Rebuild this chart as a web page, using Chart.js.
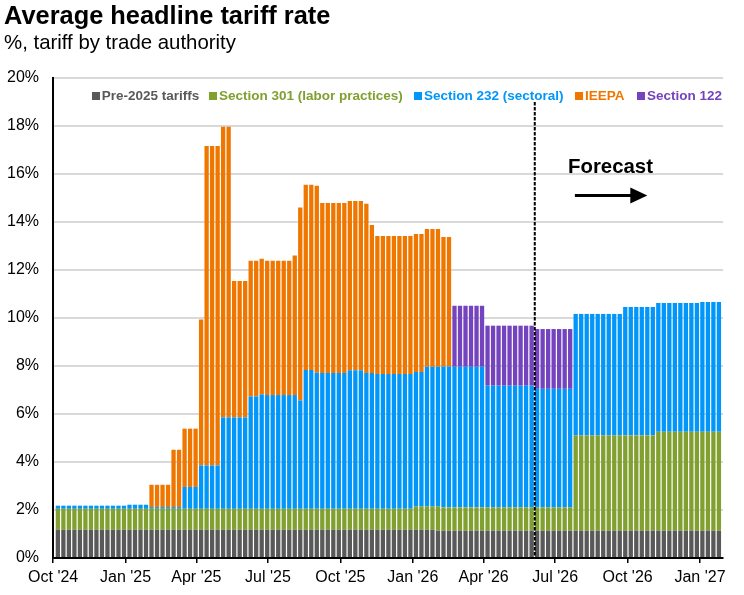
<!DOCTYPE html>
<html>
<head>
<meta charset="utf-8">
<script src="https://cdn.jsdelivr.net/npm/chart.js@4.4.1/dist/chart.umd.min.js"></script>
<style>
  html, body { margin: 0; padding: 0; background: #fff; overflow: hidden; }
  body { font-family: "Liberation Sans", Arial, sans-serif; }
  #wrap { position: relative; width: 744px; height: 595px; }
  #c { position: absolute; left: 0; top: 0; }
  .title { position: absolute; left: 4px; top: 3px; font-size: 25.4px; font-weight: bold; line-height: 1; color: #000; white-space: nowrap; }
  .sub { position: absolute; left: 4px; top: 32px; font-size: 20.4px; line-height: 1; color: #000; white-space: nowrap; }
  .lg { position: absolute; top: 89px; height: 14px; display: flex; align-items: center; white-space: nowrap; font-size: 13.5px; font-weight: bold; line-height: 1; }
  .lg i { display: inline-block; width: 8px; height: 8px; margin-right: 2px; }
  .fc { position: absolute; left: 568px; top: 156px; font-size: 20.4px; font-weight: bold; line-height: 1; color: #000; white-space: nowrap; }
</style>
</head>
<body>
<div id="wrap">
  <canvas id="c" width="744" height="595"></canvas>
  <div class="title">Average headline tariff rate</div>
  <div class="sub">%, tariff by trade authority</div>
  <div id="legend"></div>
  <div class="fc">Forecast</div>
</div>
<script>
// ---- categories: weekly observations ----
const weeks = [
  '2024-10-07','2024-10-14','2024-10-21','2024-10-28','2024-11-04','2024-11-11','2024-11-18','2024-11-25','2024-12-02','2024-12-09',
  '2024-12-16','2024-12-23','2024-12-30','2025-01-06','2025-01-13','2025-01-20','2025-01-27','2025-02-03','2025-02-10','2025-02-17',
  '2025-02-24','2025-03-03','2025-03-10','2025-03-17','2025-03-24','2025-03-31','2025-04-07','2025-04-14','2025-04-21','2025-04-28',
  '2025-05-05','2025-05-12','2025-05-19','2025-05-26','2025-06-02','2025-06-09','2025-06-16','2025-06-23','2025-06-30','2025-07-07',
  '2025-07-14','2025-07-21','2025-07-28','2025-08-04','2025-08-11','2025-08-18','2025-08-25','2025-09-01','2025-09-08','2025-09-15',
  '2025-09-22','2025-09-29','2025-10-06','2025-10-13','2025-10-20','2025-10-27','2025-11-03','2025-11-10','2025-11-17','2025-11-24',
  '2025-12-01','2025-12-08','2025-12-15','2025-12-22','2025-12-29','2026-01-05','2026-01-12','2026-01-19','2026-01-26','2026-02-02',
  '2026-02-09','2026-02-16','2026-02-23','2026-03-02','2026-03-09','2026-03-16','2026-03-23','2026-03-30','2026-04-06','2026-04-13',
  '2026-04-20','2026-04-27','2026-05-04','2026-05-11','2026-05-18','2026-05-25','2026-06-01','2026-06-08','2026-06-15','2026-06-22',
  '2026-06-29','2026-07-06','2026-07-13','2026-07-20','2026-07-27','2026-08-03','2026-08-10','2026-08-17','2026-08-24','2026-08-31',
  '2026-09-07','2026-09-14','2026-09-21','2026-09-28','2026-10-05','2026-10-12','2026-10-19','2026-10-26','2026-11-02','2026-11-09',
  '2026-11-16','2026-11-23','2026-11-30','2026-12-07','2026-12-14','2026-12-21','2026-12-28','2027-01-04','2027-01-11','2027-01-18',
  '2027-01-25'
];

// ---- series values (% points, stacked) ----
const pre2025 = [
  1.18,1.18,1.18,1.18,1.18,1.18,1.18,1.18,1.18,1.18,
  1.18,1.18,1.18,1.18,1.18,1.18,1.18,1.18,1.18,1.18,
  1.18,1.18,1.18,1.18,1.18,1.18,1.18,1.18,1.18,1.18,
  1.18,1.18,1.18,1.18,1.18,1.18,1.18,1.18,1.18,1.18,
  1.18,1.18,1.18,1.18,1.18,1.18,1.18,1.18,1.18,1.18,
  1.18,1.18,1.18,1.18,1.18,1.18,1.18,1.18,1.18,1.18,
  1.18,1.18,1.18,1.18,1.18,1.18,1.18,1.18,1.18,1.14,
  1.14,1.14,1.14,1.14,1.14,1.14,1.14,1.14,1.14,1.14,
  1.14,1.14,1.14,1.14,1.14,1.14,1.14,1.14,1.14,1.14,
  1.14,1.14,1.14,1.14,1.14,1.14,1.14,1.14,1.14,1.14,
  1.14,1.14,1.14,1.14,1.14,1.14,1.14,1.14,1.14,1.14,
  1.14,1.14,1.14,1.14,1.14,1.14,1.14,1.14,1.14,1.14,
  1.14
];
const sec301 = [
  0.87,0.87,0.87,0.87,0.87,0.87,0.87,0.87,0.87,0.87,
  0.87,0.87,0.87,0.87,0.87,0.87,0.87,0.87,0.87,0.87,
  0.87,0.87,0.87,0.87,0.87,0.87,0.87,0.87,0.87,0.87,
  0.87,0.87,0.87,0.87,0.87,0.87,0.87,0.87,0.87,0.87,
  0.87,0.87,0.87,0.87,0.87,0.87,0.87,0.87,0.87,0.87,
  0.87,0.87,0.87,0.87,0.87,0.87,0.87,0.87,0.87,0.87,
  0.87,0.87,0.87,0.87,0.87,0.97,0.97,0.97,0.97,1.01,
  0.97,0.97,0.97,0.97,0.97,0.97,0.97,0.97,0.97,0.97,
  0.97,0.97,0.97,0.97,0.97,0.97,0.97,0.97,0.97,0.97,
  0.97,0.97,0.97,0.97,3.97,3.97,3.97,3.97,3.97,3.97,
  3.97,3.97,3.97,3.97,3.97,3.97,3.97,3.97,3.97,4.12,
  4.12,4.12,4.12,4.12,4.12,4.12,4.12,4.12,4.12,4.12,
  4.12
];
const sec232 = [
  0.13,0.13,0.13,0.13,0.13,0.13,0.13,0.13,0.13,0.13,
  0.13,0.13,0.13,0.17,0.17,0.17,0.17,0.07,0.07,0.07,
  0.07,0.07,0.07,0.91,0.91,0.91,1.81,1.81,1.81,1.81,
  3.81,3.81,3.81,3.81,3.81,4.68,4.68,4.77,4.74,4.74,
  4.74,4.74,4.74,4.74,4.52,5.78,5.78,5.67,5.66,5.66,
  5.66,5.66,5.66,5.77,5.77,5.77,5.66,5.66,5.62,5.62,
  5.62,5.62,5.62,5.62,5.62,5.60,5.60,5.82,5.82,5.82,
  5.87,5.87,5.86,5.86,5.86,5.86,5.86,5.86,5.07,5.07,
  5.07,5.07,5.07,5.07,5.07,5.07,5.07,4.94,4.94,4.94,
  4.94,4.94,4.94,4.94,5.06,5.06,5.06,5.06,5.06,5.06,
  5.06,5.06,5.06,5.35,5.35,5.35,5.35,5.35,5.35,5.36,
  5.36,5.36,5.36,5.36,5.36,5.36,5.36,5.41,5.41,5.41,
  5.41
];
const ieepa = [
  0,0,0,0,0,0,0,0,0,0,
  0,0,0,0,0,0,0,0.93,0.93,0.93,
  0.93,2.39,2.39,2.43,2.43,2.43,6.08,13.31,13.31,13.31,
  12.11,12.11,5.68,5.68,5.68,5.66,5.66,5.65,5.60,5.60,
  5.60,5.60,5.60,5.81,8.03,7.72,7.72,7.79,7.08,7.08,
  7.08,7.08,7.08,7.05,7.05,7.05,7.05,6.16,5.75,5.75,
  5.75,5.75,5.75,5.75,5.75,5.75,5.75,5.74,5.74,5.74,
  5.39,5.39,0,0,0,0,0,0,0,0,
  0,0,0,0,0,0,0,0,0,0,
  0,0,0,0,0,0,0,0,0,0,
  0,0,0,0,0,0,0,0,0,0,
  0,0,0,0,0,0,0,0,0,0,
  0
];
const sec122 = [
  0,0,0,0,0,0,0,0,0,0,
  0,0,0,0,0,0,0,0,0,0,
  0,0,0,0,0,0,0,0,0,0,
  0,0,0,0,0,0,0,0,0,0,
  0,0,0,0,0,0,0,0,0,0,
  0,0,0,0,0,0,0,0,0,0,
  0,0,0,0,0,0,0,0,0,0,
  0,0,2.54,2.54,2.54,2.54,2.54,2.54,2.50,2.50,
  2.50,2.50,2.50,2.50,2.50,2.50,2.50,2.49,2.49,2.49,
  2.49,2.49,2.49,2.49,0,0,0,0,0,0,
  0,0,0,0,0,0,0,0,0,0,
  0,0,0,0,0,0,0,0,0,0,
  0
];

const seriesNames = ['Pre-2025 tariffs', 'Section 301 (labor practices)', 'Section 232 (sectoral)', 'IEEPA', 'Section 122'];

// ---- tick labels ----
const tickDates  = ['2024-10-01','2025-01-01','2025-04-01','2025-07-01','2025-10-01','2026-01-01','2026-04-01','2026-07-01','2026-10-01','2027-01-01'];
const tickLabels = ["Oct '24","Jan '25","Apr '25","Jul '25","Oct '25","Jan '26","Apr '26","Jul '26","Oct '26","Jan '27"];
const yTicks = [0,2,4,6,8,10,12,14,16,18,20];

const forecastStart = '2026-06-05';

// ---- styling ----
const COLORS = ['#595959', '#80A030', '#0096FA', '#EF7700', '#7443BE'];
const FONT = '"Liberation Sans", Arial, sans-serif';
const legendLeft = [91.7, 209, 414, 575, 637];

const EPOCH = Date.UTC(2024, 9, 1);
function toDay(s) {
  const p = s.split('-').map(Number);
  return (Date.UTC(p[0], p[1] - 1, p[2]) - EPOCH) / 864e5;
}
const tickDays = tickDates.map(toDay);

const seriesValues = [pre2025, sec301, sec232, ieepa, sec122];
const datasets = seriesValues.map((vals, k) => ({
  label: seriesNames[k],
  data: weeks.map((w, i) => ({ x: toDay(w), y: vals[i] })),
  backgroundColor: COLORS[k],
  borderWidth: 0,
  barPercentage: 0.78,
  categoryPercentage: 1.0
}));

// HTML legend
const lg = document.getElementById('legend');
seriesNames.forEach((n, k) => {
  const d = document.createElement('div');
  d.className = 'lg';
  d.style.left = legendLeft[k] + 'px';
  d.style.color = COLORS[k];
  d.innerHTML = '<i style="background:' + COLORS[k] + '"></i><span></span>';
  d.querySelector('span').textContent = n;
  lg.appendChild(d);
});

const overlay = {
  id: 'overlay',
  afterDatasetsDraw(chart) {
    const { ctx, scales: { x, y } } = chart;
    ctx.save();
    // forecast divider
    const xf = x.getPixelForValue(toDay(forecastStart));
    ctx.strokeStyle = '#000';
    ctx.lineWidth = 2;
    ctx.setLineDash([3.5, 1.5]);
    ctx.beginPath();
    ctx.moveTo(xf, y.getPixelForValue(19));
    ctx.lineTo(xf, y.getPixelForValue(0));
    ctx.stroke();
    ctx.setLineDash([]);
    // arrow
    const x0 = x.getPixelForValue(toDay('2026-07-26'));
    const x1 = x.getPixelForValue(toDay('2026-10-26'));
    const ya = y.getPixelForValue(15.1);
    ctx.lineWidth = 3;
    ctx.beginPath();
    ctx.moveTo(x0, ya);
    ctx.lineTo(x1 - 14, ya);
    ctx.stroke();
    ctx.fillStyle = '#000';
    ctx.beginPath();
    ctx.moveTo(x1, ya);
    ctx.lineTo(x1 - 17, ya - 8);
    ctx.lineTo(x1 - 17, ya + 8);
    ctx.closePath();
    ctx.fill();
    ctx.restore();
  }
};

new Chart(document.getElementById('c'), {
  type: 'bar',
  data: { datasets },
  plugins: [overlay],
  options: {
    responsive: false,
    animation: false,
    layout: { padding: { left: 0, right: 21, top: 78, bottom: 0 } },
    plugins: { legend: { display: false }, tooltip: { enabled: false } },
    scales: {
      x: {
        type: 'linear',
        stacked: true,
        offset: false,
        min: -0.2,
        max: 851.2,
        grid: { offset: false, drawOnChartArea: false, drawTicks: true, tickLength: 5, color: '#000', lineWidth: 1.5 },
        border: { display: true, color: '#000', width: 2 },
        afterBuildTicks: s => { s.ticks = tickDays.map(v => ({ value: v })); },
        afterFit: s => { s.height = 37; },
        ticks: {
          autoSkip: false, maxRotation: 0, minRotation: 0,
          font: { family: FONT, size: 16 }, color: '#000', padding: 5,
          callback: v => { const j = tickDays.indexOf(v); return j >= 0 ? tickLabels[j] : ''; }
        }
      },
      y: {
        stacked: true,
        min: 0,
        max: 20,
        afterBuildTicks: s => { s.ticks = yTicks.map(v => ({ value: v })); },
        afterFit: s => { s.width = 53; },
        grid: {
          color: c => (c.tick && c.tick.value === 0) ? 'rgba(0,0,0,0)' : '#D9D9D9',
          lineWidth: 2, drawTicks: false
        },
        border: { display: true, color: '#000', width: 2 },
        ticks: {
          font: { family: FONT, size: 16 }, color: '#000', padding: 14,
          callback: v => v + '%'
        }
      }
    }
  }
});
</script>
</body>
</html>
